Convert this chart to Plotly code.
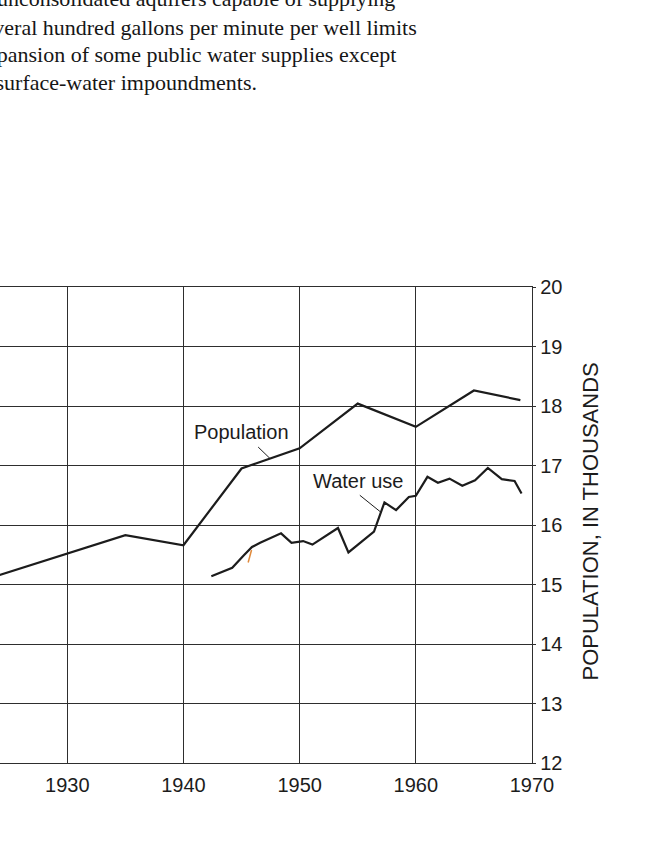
import plotly.graph_objects as go

# Population, in thousands
pop_years = [1920, 1935, 1940, 1945, 1950, 1955, 1960, 1965, 1969]
pop_values = [14.90, 15.83, 15.66, 16.95, 17.29, 18.04, 17.65, 18.26, 18.10]

# Water use, plotted on the same grid
water_years = [1942.4, 1944.2, 1945.2, 1945.9, 1946.6, 1948.4, 1949.3, 1950.3,
               1951.1, 1953.3, 1954.2, 1956.4, 1957.3, 1958.3, 1959.4, 1960.0,
               1961.0, 1961.9, 1962.9, 1964.0, 1965.1, 1966.2, 1967.4, 1968.5,
               1969.1]
water_values = [15.14, 15.28, 15.49, 15.63, 15.70, 15.86, 15.70, 15.73,
                15.67, 15.95, 15.54, 15.89, 16.38, 16.25, 16.47, 16.49,
                16.81, 16.71, 16.78, 16.66, 16.75, 16.96, 16.77, 16.74,
                16.53]

# small pencil tick near the water-use curve
tick_years = [1945.57, 1945.86]
tick_values = [15.37, 15.58]

x_ticks = [1930, 1940, 1950, 1960, 1970]
y_ticks = [12, 13, 14, 15, 16, 17, 18, 19, 20]

body_lines = [
    "unconsolidated aquifers capable of supplying",
    "several hundred gallons per minute per well limits",
    "expansion of some public water supplies except",
    "by surface-water impoundments.",
]

INK = "#1c1c1c"
GRID = "#2e2e2e"
SANS = "Liberation Sans, Arial, sans-serif"
SERIF = "Liberation Serif, Times New Roman, serif"

W, H = 665, 850
L, R, T, B = 0, 133, 287, 87
PW, PH = W - L - R, H - T - B

fig = go.Figure()
fig.add_trace(go.Scatter(x=pop_years, y=pop_values, mode="lines",
                         line=dict(color=INK, width=2.2), showlegend=False))
fig.add_trace(go.Scatter(x=water_years, y=water_values, mode="lines",
                         line=dict(color=INK, width=2.2), showlegend=False))
fig.add_trace(go.Scatter(x=tick_years, y=tick_values, mode="lines",
                         line=dict(color="#e08a3c", width=1.5), showlegend=False))

# leader lines from labels to curves
fig.add_shape(type="line", xref="x", yref="y", x0=1946.43, y0=17.31,
              x1=1947.44, y1=17.12, line=dict(color=INK, width=1))
fig.add_shape(type="line", xref="x", yref="y", x0=1955.18, y0=16.50,
              x1=1956.96, y1=16.22, line=dict(color=INK, width=1))

fig.add_annotation(x=1945.03, y=17.57, xref="x", yref="y", text="Population",
                   xanchor="center", yanchor="middle", showarrow=False,
                   font=dict(family=SANS, size=20, color=INK))
fig.add_annotation(x=1955.05, y=16.74, xref="x", yref="y", text="Water use",
                   xanchor="center", yanchor="middle", showarrow=False,
                   font=dict(family=SANS, size=20, color=INK))

# axis title on the right
fig.add_annotation(x=589.5 / PW, y=(H - B - 522) / PH, xref="paper", yref="paper",
                   xanchor="center", yanchor="middle",
                   text="POPULATION, IN THOUSANDS", textangle=-90, showarrow=False,
                   font=dict(family=SANS, size=22, color=INK))

# running text above the figure
right_edges = [397, 419, 398, 259]
centers = [-1, 27, 55, 82.5]
for txt, rx, cy in zip(body_lines, right_edges, centers):
    fig.add_annotation(x=rx / PW, y=(H - B - cy) / PH, xref="paper", yref="paper",
                       xanchor="right", yanchor="middle", text=txt, showarrow=False,
                       font=dict(family=SERIF, size=22, color="#161616"))

fig.update_xaxes(range=[1924.21, 1970], tickvals=x_ticks,
                 ticktext=[str(v) for v in x_ticks],
                 showgrid=True, gridcolor=GRID, gridwidth=1.3,
                 showline=True, linecolor=GRID, linewidth=1.3, mirror=True,
                 ticks="", zeroline=False, ticklabelstandoff=4,
                 tickfont=dict(family=SANS, size=20, color=INK))
fig.update_yaxes(range=[12, 20], tickvals=y_ticks, side="right",
                 showgrid=True, gridcolor=GRID, gridwidth=1.3,
                 showline=True, linecolor=GRID, linewidth=1.3, mirror=False,
                 ticks="outside", ticklen=3, tickcolor=GRID, zeroline=False,
                 tickfont=dict(family=SANS, size=20, color=INK))

fig.update_layout(width=W, height=H, margin=dict(l=L, r=R, t=T, b=B),
                  paper_bgcolor="white", plot_bgcolor="white")

fig.write_html("out.html")
